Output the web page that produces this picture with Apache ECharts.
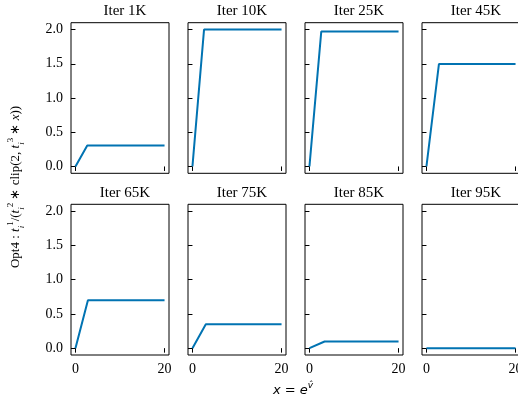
<!DOCTYPE html>
<html>
<head>
<meta charset="utf-8">
<script src="https://cdn.jsdelivr.net/npm/echarts@6/dist/echarts.min.js"></script>
<style>
html,body{margin:0;padding:0;background:#fff;}
#c{width:518px;height:402px;}
</style>
</head>
<body>
<div id="c"></div>
<script>
// ---- data ----
const titles = ['Iter 1K', 'Iter 10K', 'Iter 25K', 'Iter 45K', 'Iter 65K', 'Iter 75K', 'Iter 85K', 'Iter 95K'];
const kneeX = [2.65, 2.6, 2.65, 2.8, 2.8, 3.0, 3.4, 3.0];
const plateau = [0.306, 2.0, 1.97, 1.495, 0.70, 0.348, 0.097, 0.0];
const startY = [0, 0, 0, 0, 0, 0, 0, 0];
const xEnd = 20;
const yTicks = [0, 0.5, 1.0, 1.5, 2.0];
const xTicks = [0, 20];

// ---- layout ----
const colLeft = [71, 188, 305, 422];
const panelW = 98;
const rowTop = [22.7, 204.3];
const panelH = [150.6, 150.7];
const serif = '"Liberation Serif", "Times New Roman", serif';
const lineColor = '#0173b2';

const grids = [], xAxes = [], yAxes = [], series = [], titleArr = [];
for (let i = 0; i < 8; i++) {
  const r = Math.floor(i / 4), c = i % 4;
  grids.push({
    left: colLeft[c], top: rowTop[r], width: panelW, height: panelH[r],
    show: true, borderColor: '#000', borderWidth: 1, backgroundColor: 'transparent',
    containLabel: false, outerBoundsMode: 'none'
  });
  xAxes.push({
    type: 'value', gridIndex: i, min: -1, max: 21,
    axisLine: { show: false },
    splitLine: { show: false },
    axisTick: { show: true, inside: false, length: 4.5, lineStyle: { color: '#000', width: 1 }, customValues: xTicks },
    axisLabel: {
      show: r === 1, customValues: xTicks, margin: 7, hideOverlap: false,
      fontFamily: serif, fontSize: 14, color: '#000',
      formatter: v => String(v)
    }
  });
  yAxes.push({
    type: 'value', gridIndex: i, min: -0.1, max: 2.1,
    axisLine: { show: false },
    splitLine: { show: false },
    axisTick: { show: true, inside: false, length: 4.5, lineStyle: { color: '#000', width: 1 }, customValues: yTicks },
    axisLabel: {
      show: c === 0, customValues: yTicks, margin: 8,
      fontFamily: serif, fontSize: 14, color: '#000',
      formatter: v => v.toFixed(1)
    }
  });
  series.push({
    type: 'line', xAxisIndex: i, yAxisIndex: i,
    data: [[0, startY[i]], [kneeX[i], plateau[i]], [xEnd, plateau[i]]],
    showSymbol: false, symbol: 'none',
    lineStyle: { color: lineColor, width: 2 },
    animation: false
  });
  titleArr.push({
    text: titles[i],
    left: colLeft[c] + panelW / 2,
    top: rowTop[r] - 24,
    textAlign: 'center',
    textStyle: { fontFamily: serif, fontSize: 15, fontWeight: 'normal', color: '#000' }
  });
}

const chart = echarts.init(document.getElementById('c'), null, { renderer: 'canvas' });
const base = { fontFamily: serif, fontSize: 13, lineHeight: 20, verticalAlign: 'middle', fill: '#000' };
const it = { fontFamily: serif, fontSize: 13, fontStyle: 'italic', lineHeight: 20, verticalAlign: 'middle', fill: '#000' };
const sup = { fontFamily: serif, fontSize: 9, lineHeight: 12, verticalAlign: 'top', fill: '#000' };
const sub = { fontFamily: serif, fontSize: 9, fontStyle: 'italic', lineHeight: 10, verticalAlign: 'bottom', fill: '#000' };
chart.setOption({
  animation: false,
  backgroundColor: '#fff',
  title: titleArr,
  grid: grids,
  xAxis: xAxes,
  yAxis: yAxes,
  series: series,
  graphic: [
    {
      type: 'text', x: 16, y: 187, rotation: Math.PI / 2,
      style: {
        text: '{n|Opt4 : }{i|t}{b|i}{p|1}{n|/(}{i|t}{b|i}{p|2}{n| ∗ clip(2, }{i|t}{b|i}{p|3}{n| ∗ }{i|x}{n|))}',
        align: 'center', verticalAlign: 'middle',
        rich: { n: base, i: it, p: sup, b: sub }
      }
    },
    {
      type: 'text', x: 293, y: 391,
      style: {
        text: '{i|x}{n| = }{i|e}{p|v̂}',
        align: 'center', verticalAlign: 'middle',
        rich: {
          n: { fontFamily: '"DejaVu Sans"', fontSize: 13, lineHeight: 20, verticalAlign: 'middle', fill: '#000' },
          i: { fontFamily: '"DejaVu Sans"', fontSize: 13, fontStyle: 'italic', lineHeight: 20, verticalAlign: 'middle', fill: '#000' },
          p: { fontFamily: '"DejaVu Sans"', fontSize: 9, fontStyle: 'italic', lineHeight: 12, verticalAlign: 'top', fill: '#000' }
        }
      }
    }
  ]
});
</script>
</body>
</html>
